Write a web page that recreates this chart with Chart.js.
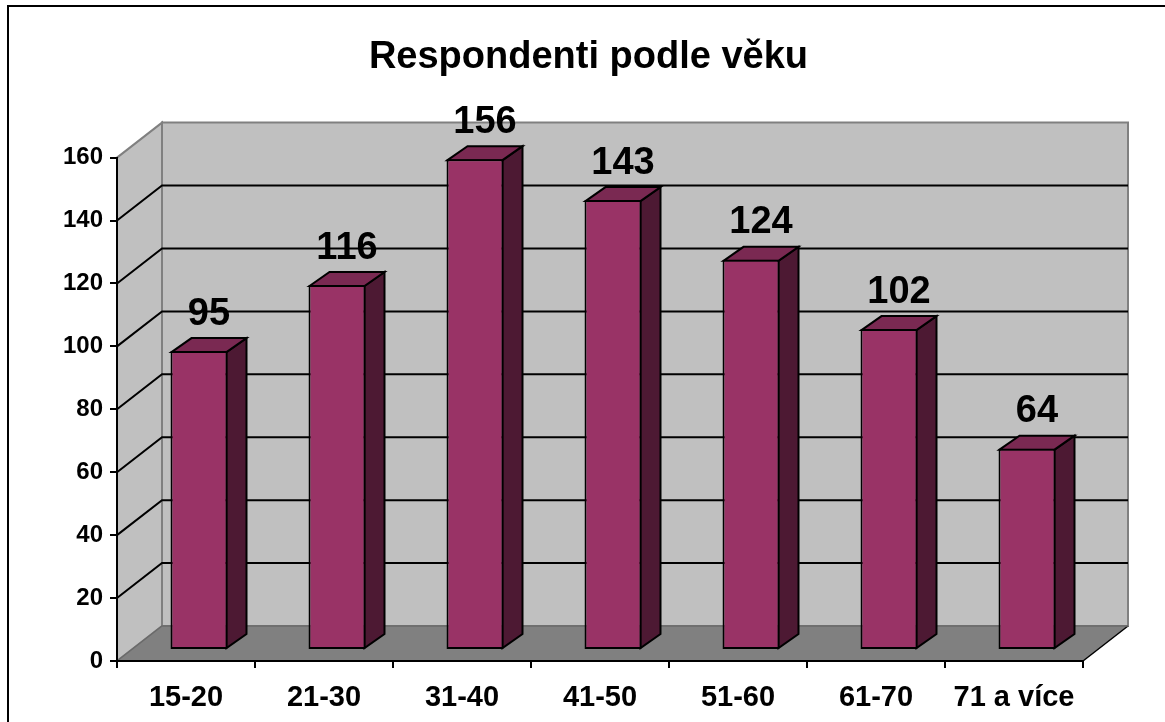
<!DOCTYPE html>
<html><head><meta charset="utf-8">
<style>html,body{margin:0;padding:0;background:#fff;overflow:hidden}canvas{display:block}</style>
<script src="https://cdn.jsdelivr.net/npm/chart.js@4"></script></head>
<body><canvas id="c" width="1165" height="722"></canvas>
<script>
const titleText = 'Respondenti podle věku';
const categories = ['15-20','21-30','31-40','41-50','51-60','61-70','71 a více'];
const respondents = [95,116,156,143,124,102,64];
const yTicks = [0,20,40,60,80,100,120,140,160];

const FONT = '"Liberation Sans", Arial, sans-serif';
const DX = 45, DY = 35;            // depth of the 3D box
const BX = 13, BY = 11;            // bars sit part-way into the box
const SX = 20, SY = 14;            // depth of a bar
function poly(ctx, pts, fill, stroke, lw){
  ctx.beginPath();
  pts.forEach((p,i)=> i ? ctx.lineTo(p[0],p[1]) : ctx.moveTo(p[0],p[1]));
  ctx.closePath();
  if(fill){ctx.fillStyle=fill;ctx.fill();}
  if(stroke){ctx.strokeStyle=stroke;ctx.lineWidth=lw;ctx.stroke();}
}
const box3d = {
  id:'box3d',
  afterLayout(chart){
    chart.titleBlock.left += 47; chart.titleBlock.right += 47;
  },
  beforeDraw(chart){
    const {ctx, chartArea:a, scales:{y}} = chart;
    ctx.save();
    ctx.fillStyle='#fff';ctx.fillRect(0,0,chart.width,chart.height);
    ctx.strokeStyle='#000';ctx.lineWidth=2;ctx.strokeRect(8,6,1200,760);
    const y0=y.getPixelForValue(0), yT=y.getPixelForValue(160);
    poly(ctx,[[a.left+DX,yT-DY],[a.right+DX,yT-DY],[a.right+DX,y0-DY],[a.left+DX,y0-DY]],'#c0c0c0','#808080',2);
    poly(ctx,[[a.left,yT],[a.left+DX,yT-DY],[a.left+DX,y0-DY],[a.left,y0]],'#c0c0c0','#808080',2);
    poly(ctx,[[a.left,y0],[a.right,y0],[a.right+DX,y0-DY],[a.left+DX,y0-DY]],'#808080');
    ctx.strokeStyle='#000';ctx.lineWidth=1.5;
    ctx.beginPath();ctx.moveTo(a.right,y0);ctx.lineTo(a.right+DX,y0-DY);ctx.stroke();
    ctx.strokeStyle='#6a6a6a';ctx.lineWidth=1.5;
    ctx.beginPath();ctx.moveTo(a.left,y0);ctx.lineTo(a.left+DX,y0-DY);ctx.lineTo(a.right+DX,y0-DY);ctx.stroke();
    ctx.strokeStyle='#000';ctx.lineWidth=2;
    yTicks.filter(v=>v>0&&v<160).forEach(v=>{
      const p=y.getPixelForValue(v);
      ctx.beginPath();ctx.moveTo(a.left,p);ctx.lineTo(a.left+DX,p-DY);ctx.lineTo(a.right+DX,p-DY);ctx.stroke();
    });
    ctx.restore();
  },
  beforeDatasetDraw(chart,args){
    const ctx=chart.ctx;
    ctx.save();
    ctx.translate(BX,-BY);
    ctx.lineJoin='miter';
    args.meta.data.forEach(b=>{
      const {x,y,base,width}=b.getProps(['x','y','base','width'],true);
      const r=x+width/2-1, l=x-width/2+1, t=y+1, bt=base-1;
      poly(ctx,[[r,t],[r+SX,t-SY],[r+SX,bt-SY],[r,bt]],'#4d1933','#000',2);
      poly(ctx,[[l,t],[l+SX,t-SY],[r+SX,t-SY],[r,t]],'#7a2952','#000',2);
    });
  },
  afterDatasetDraw(chart,args){
    const ctx=chart.ctx;
    ctx.restore();
    ctx.save();
    ctx.fillStyle='#000';ctx.textAlign='center';ctx.textBaseline='middle';
    ctx.font='bold 38px '+FONT;
    args.meta.data.forEach((b,i)=>{
      const {x,y}=b.getProps(['x','y'],true);
      ctx.fillText(String(respondents[i]), x+BX+10, y-BY-37);
    });
    ctx.restore();
  }
};
new Chart(document.getElementById('c'),{
  type:'bar',
  data:{labels:categories,datasets:[{data:respondents,backgroundColor:'#993366',borderColor:'#000',borderWidth:2,
    borderSkipped:false,barPercentage:0.413,categoryPercentage:1}]},
  plugins:[box3d],
  options:{
    responsive:false,animation:false,events:[],
    layout:{padding:{left:0,right:82,top:0,bottom:0}},
    plugins:{legend:{display:false},tooltip:{enabled:false},
      title:{display:true,text:titleText,color:'#000',font:{family:FONT,size:38,weight:'bold'},
        padding:{top:35,bottom:77}}},
    scales:{
      x:{offset:true,
        afterFit(s){s.height=61;},
        border:{color:'#000',width:2},
        grid:{offset:true,drawOnChartArea:false,drawTicks:true,tickLength:7,color:'#000',lineWidth:2},
        ticks:{color:'#000',font:{family:FONT,size:29,weight:'bold'},padding:13,maxRotation:0,autoSkip:false}},
      y:{min:0,max:160,
        afterFit(s){s.width=117;},
        afterBuildTicks(s){s.ticks=yTicks.map(v=>({value:v}));},
        border:{color:'#000',width:2},
        grid:{drawOnChartArea:false,drawTicks:true,tickLength:7,color:'#000',lineWidth:2},
        ticks:{color:'#000',font:{family:FONT,size:24,weight:'bold'},padding:7}}
    }
  }
});
</script></body></html>
